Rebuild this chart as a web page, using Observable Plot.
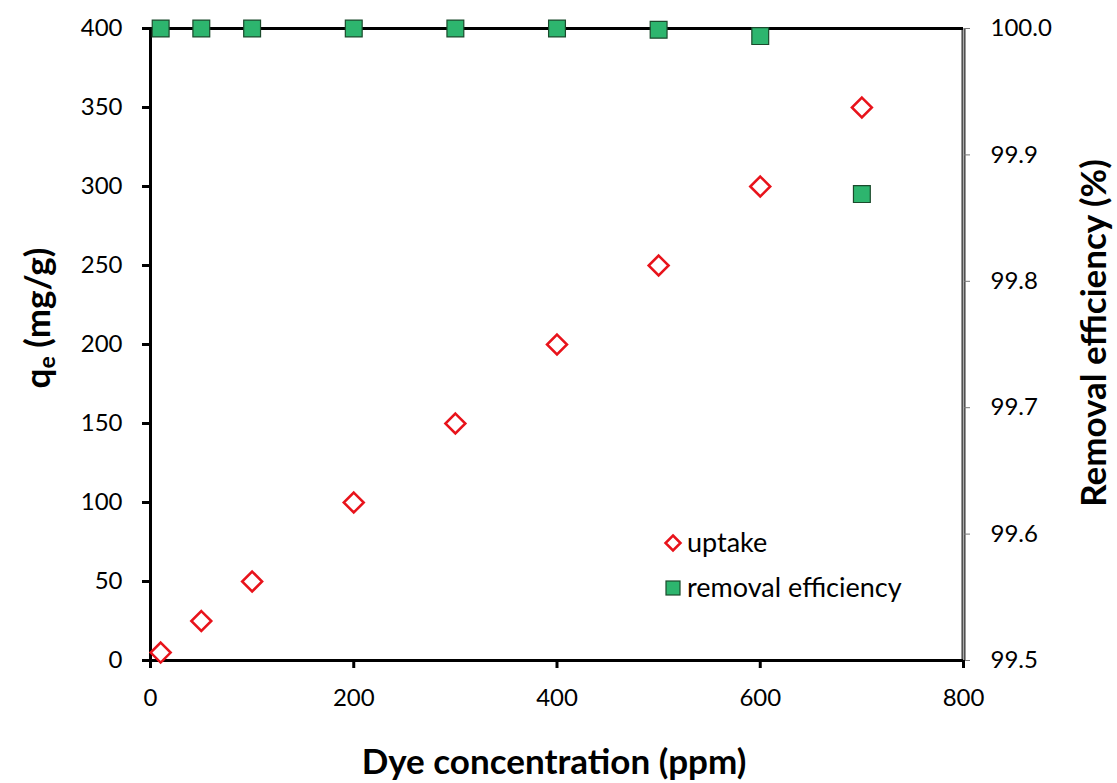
<!DOCTYPE html>
<html><head>
<meta charset="utf-8">
<script src="https://cdn.jsdelivr.net/npm/d3@7"></script>
<script src="https://cdn.jsdelivr.net/npm/@observablehq/plot@0.6"></script>
<style>
body{margin:0;background:#fff;}
#wrap{position:relative;width:1117px;height:783px;font-family:Lato,"Open Sans",sans-serif;color:#000;overflow:hidden;}
.lab{position:absolute;font-weight:bold;font-size:35px;color:#000;white-space:nowrap;line-height:1.15;}
.leg{position:absolute;font-size:27px;color:#000;white-space:nowrap;line-height:1;}
</style></head><body><div id="wrap"></div>
<script>
const conc = [10, 50, 100, 200, 300, 400, 500, 600, 700];
const uptake = [5, 25, 50, 100, 150, 200, 250, 300, 350];
const removal = [100, 100, 100, 100, 100, 100, 99.999, 99.994, 99.869];
const xTicks = [0, 200, 400, 600, 800];
const yTicks = [0, 50, 100, 150, 200, 250, 300, 350, 400];
const rTicks = [99.5, 99.6, 99.7, 99.8, 99.9, 100.0];

const rMin = 99.5, rMax = 100.0, yMax = 400;
const toLeft = r => (r - rMin) / (rMax - rMin) * yMax;
const fromLeft = y => rMin + y / yMax * (rMax - rMin);

const idx = d3.range(conc.length);
const green = "#2db56e", greenStroke = "#1b4a2c", red = "#e8131b";

const chart = Plot.plot({
  width: 1117,
  height: 783,
  marginLeft: 150,
  marginRight: 154,
  marginTop: 28,
  marginBottom: 123,
  style: {background: "white", color: "black", fontFamily: "Lato, 'Open Sans', sans-serif", fontSize: "24px"},
  x: {domain: [0, 800]},
  y: {domain: [0, 400]},
  marks: [
    Plot.ruleX([800], {stroke: "#333", strokeWidth: 4}),
    Plot.ruleX([800], {stroke: "#aaa", strokeWidth: 1.5}),
    Plot.axisY(rTicks.map(toLeft), {anchor: "right", tickSize: 6, tickPadding: 21, stroke: "#777", strokeWidth: 1, fontSize: 24, tickFormat: d => fromLeft(d).toFixed(1), label: null}),
    Plot.axisY(yTicks, {anchor: "left", tickSize: 8, tickPadding: 20, strokeWidth: 3, fontSize: 24, label: null}),
    Plot.axisX(xTicks, {anchor: "bottom", tickSize: 8, tickPadding: 20, strokeWidth: 3, fontSize: 24, label: null}),
    Plot.ruleY([0], {stroke: "black", strokeWidth: 3}),
    Plot.ruleY([400], {stroke: "black", strokeWidth: 3}),
    Plot.ruleX([0], {stroke: "black", strokeWidth: 3}),
    Plot.dot(idx, {x: i => conc[i], y: i => uptake[i], symbol: "diamond2", r: 9, stroke: red, strokeWidth: 2.5, fill: "white"}),
    Plot.dot(idx, {x: i => conc[i], y: i => toLeft(removal[i]), symbol: "square", r: 9.5, fill: green, stroke: greenStroke, strokeWidth: 1.2})
  ]
});
const wrap = document.getElementById("wrap");
wrap.appendChild(chart);

function addDiv(cls, html, style) {
  const d = document.createElement("div");
  d.className = cls; d.innerHTML = html;
  Object.assign(d.style, style);
  wrap.appendChild(d);
  return d;
}
// axis titles
addDiv("lab", "Dye concentration (ppm)", {left: "554px", top: "760px", transform: "translate(-50%,-50%)"});
addDiv("lab", "q<sub style='font-size:23px;vertical-align:-5px'>e</sub> (mg/g)", {left: "38px", top: "318px", transform: "translate(-50%,-50%) rotate(-90deg)"});
addDiv("lab", "Removal efficiency (%)", {left: "1092px", top: "333px", transform: "translate(-50%,-50%) rotate(-90deg)"});
// legend
const diamondSvg = `<svg width="20" height="20" style="position:absolute;left:-10px;top:-10px;overflow:visible"><path d="M10,2.5 L17.5,10 L10,17.5 L2.5,10 Z" fill="white" stroke="${red}" stroke-width="2.5"/></svg>`;
const squareSvg = `<svg width="20" height="20" style="position:absolute;left:-10px;top:-10px;overflow:visible"><rect x="3" y="3" width="14" height="14" fill="${green}" stroke="${greenStroke}" stroke-width="1.2"/></svg>`;
addDiv("leg", diamondSvg, {left: "673px", top: "543px"});
addDiv("leg", squareSvg, {left: "673px", top: "588px"});
addDiv("leg", "uptake", {left: "687px", top: "543px", transform: "translateY(-55%)"});
addDiv("leg", "removal efficiency", {left: "687px", top: "588px", transform: "translateY(-55%)"});
</script>
</body></html>
